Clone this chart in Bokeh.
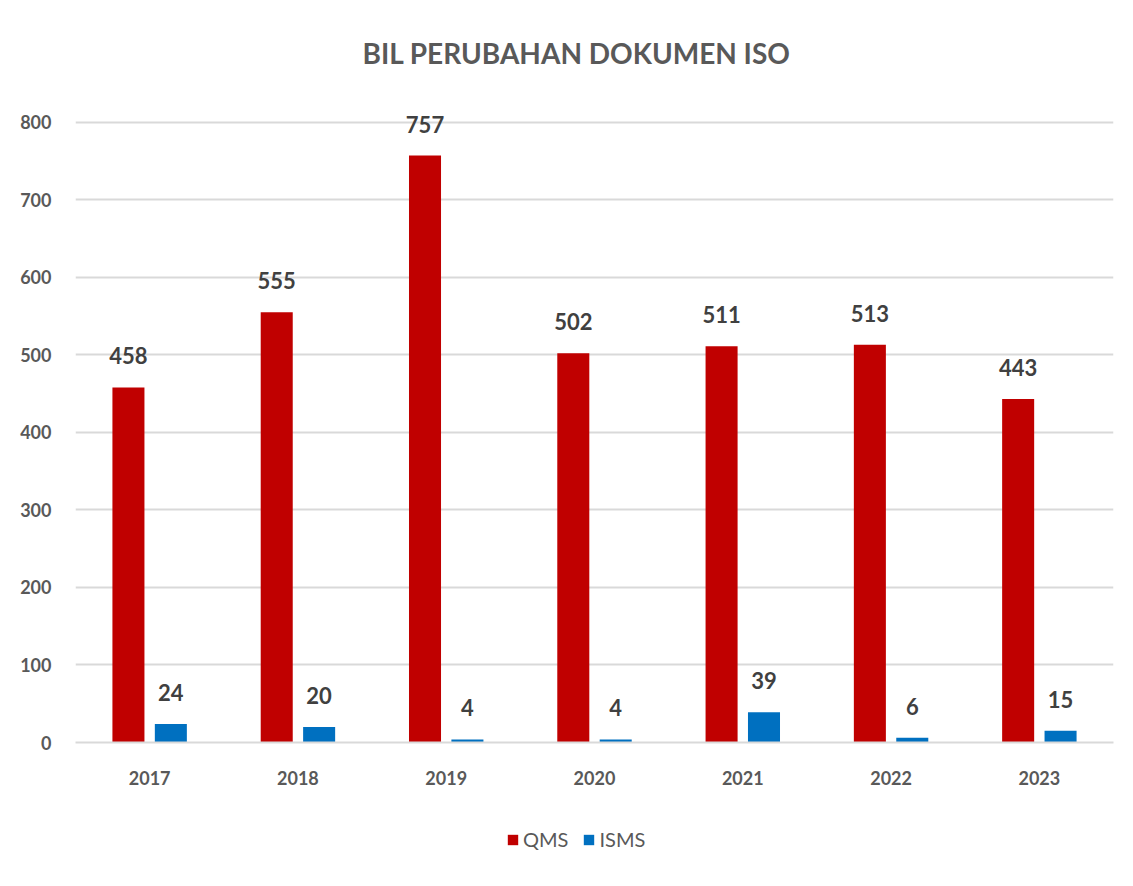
from bokeh.plotting import figure
from bokeh.layouts import column
from bokeh.models import ColumnDataSource, Legend, LegendItem, LabelSet, FixedTicker, Range1d
from bokeh.core.properties import value
from bokeh.transform import dodge
from bokeh.embed import file_html
from bokeh.resources import INLINE

years = ["2017", "2018", "2019", "2020", "2021", "2022", "2023"]
qms = [458, 555, 757, 502, 511, 513, 443]
isms = [24, 20, 4, 4, 39, 6, 15]
title_text = "BIL PERUBAHAN DOKUMEN ISO"
series_names = ["QMS", "ISMS"]

FONT = "Lato"
RED = "#C00000"
BLUE = "#0070C0"
GRAY = "#595959"

src = ColumnDataSource(dict(year=years, qms=qms, isms=isms,
                            qms_s=[str(v) for v in qms], isms_s=[str(v) for v in isms]))

p = figure(x_range=years, y_range=Range1d(0, 850), width=1117, height=800,
           output_backend="svg", toolbar_location=None,
           min_border_left=75, min_border_right=4, min_border_bottom=58, min_border_top=83)

p.title.text = title_text
p.title.align = "left"
p.title.offset = 287
p.title.text_font = FONT
p.title.text_font_size = "28px"
p.title.text_color = GRAY
p.title.text_font_style = "bold"
p.title.standoff = 27

r1 = p.vbar(x=dodge("year", -0.143, range=p.x_range), top="qms", width=0.216,
            source=src, color=RED, line_color=None)
r2 = p.vbar(x=dodge("year", 0.143, range=p.x_range), top="isms", width=0.216,
            source=src, color=BLUE, line_color=None)

for col, lab, off in (("qms", "qms_s", -0.143), ("isms", "isms_s", 0.143)):
    ls = LabelSet(x=dodge("year", off, range=p.x_range), y=col, text=lab, source=src,
                  text_align="center", text_baseline="bottom", y_offset=23,
                  text_font=value(FONT), text_font_size=value("22px"),
                  text_font_style=value("bold"), text_color=value("#404040"))
    p.add_layout(ls)

p.outline_line_color = None
p.xgrid.grid_line_color = None
p.ygrid.grid_line_color = "#D9D9D9"
p.ygrid.grid_line_width = 2
p.yaxis.ticker = FixedTicker(ticks=list(range(0, 801, 100)))
p.yaxis.axis_line_color = None
p.yaxis.major_tick_line_color = None
p.yaxis.minor_tick_line_color = None
p.yaxis.major_label_standoff = 18
p.xaxis.axis_line_color = "#D9D9D9"
p.xaxis.axis_line_width = 2
p.xaxis.major_tick_line_color = None
p.xaxis.major_label_standoff = 22
for ax in (p.xaxis, p.yaxis):
    ax.major_label_text_font = FONT
    ax.major_label_text_font_size = "18px"
    ax.major_label_text_font_style = "bold"
    ax.major_label_text_color = GRAY

# legend strip below the chart
lg = figure(width=1117, height=86, output_backend="svg", toolbar_location=None,
            min_border=0, x_range=(0, 1), y_range=(0, 1))
lg.axis.visible = False
lg.grid.visible = False
lg.outline_line_color = None
d1 = lg.vbar(x=[0.5], top=[0], bottom=[0], width=0.0, color=RED, line_color=None)
d2 = lg.vbar(x=[0.5], top=[0], bottom=[0], width=0.0, color=BLUE, line_color=None)
legend = Legend(items=[LegendItem(label=series_names[0], renderers=[d1]),
                       LegendItem(label=series_names[1], renderers=[d2])],
                orientation="horizontal", location=(431, 35),
                glyph_width=13, glyph_height=13, label_text_font=FONT,
                label_text_font_size="20px", label_text_color=GRAY,
                border_line_color=None, background_fill_alpha=0,
                spacing=14, label_standoff=4, padding=0, margin=0)
lg.add_layout(legend, "center")

open("out.html", "w").write(file_html(column(p, lg, spacing=0), INLINE))
